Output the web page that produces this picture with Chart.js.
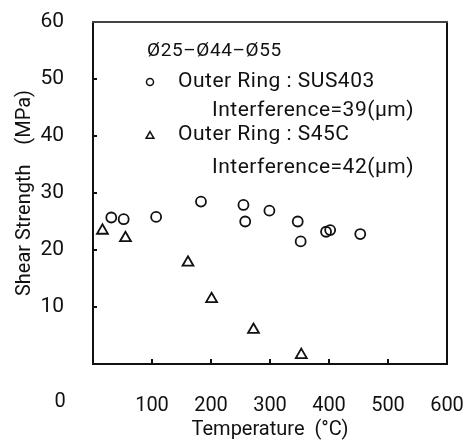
<!DOCTYPE html>
<html>
<head>
<meta charset="utf-8">
<script src="https://cdn.jsdelivr.net/npm/chart.js@4/dist/chart.umd.min.js"></script>
<style>
  body { margin: 0; background: #fff; }
  canvas { display: block; }
</style>
</head>
<body>
<canvas id="graf" width="467" height="444"></canvas>
<script>
// outer ring SUS403, interference 39 um
var susTeplota = [31, 52, 107, 183, 255, 258, 299, 347, 352, 395, 402, 453];
var susPevnost = [25.7, 25.4, 25.8, 28.5, 27.9, 25.0, 26.9, 25.0, 21.5, 23.2, 23.5, 22.8];

// outer ring S45C, interference 42 um
var s45cTeplota = [16, 55, 161, 201, 272, 353];
var s45cPevnost = [23.4, 22.1, 17.8, 11.4, 6.0, 1.6];

var xTicky = [0, 100, 200, 300, 400, 500, 600];
var yTicky = [0, 10, 20, 30, 40, 50, 60];

var popisky = [
    "\u00d825\u2013\u00d844\u2013\u00d855",
    "Outer Ring : SUS403",
    "Interference=39(\u03bcm)",
    "Outer Ring : S45C",
    "Interference=42(\u03bcm)"
];

const FONT = "Roboto, 'DejaVu Sans', sans-serif";

function body(x, y) {
    var pole = [];
    for (var i = 0; i < x.length; i++) {
        pole.push({x: x[i], y: y[i]});
    }
    return pole;
}

// bez extra paddingu od labelov, plocha grafu je dana len layout paddingom
function bezPaddingu(scale) {
    scale.paddingTop = 0;
    scale.paddingBottom = 0;
    scale.paddingLeft = 0;
    scale.paddingRight = 0;
}

// ramik, vnutorne ticky a text v grafe
var ramik = {
    id: "ramik",
    afterDraw: function (chart) {
        var ctx = chart.ctx;
        var a = chart.chartArea;
        var sx = chart.scales.x;
        var sy = chart.scales.y;
        var l = Math.round(a.left), r = Math.round(a.right);
        var t = Math.round(a.top), b = Math.round(a.bottom);
        ctx.save();

        ctx.fillStyle = "#111";
        ctx.fillRect(l - 1, t - 1, 2, b - t + 2);
        ctx.fillRect(r - 1, t - 1, 2, b - t + 2);
        ctx.fillRect(l - 1, b - 1, r - l + 2, 2);
        ctx.fillStyle = "#444";
        ctx.fillRect(l - 1, t - 1, r - l + 2, 2);

        ctx.fillStyle = "#111";
        for (var i = 1; i < xTicky.length - 1; i++) {
            var px = Math.round(sx.getPixelForValue(xTicky[i]));
            ctx.fillRect(px - 1, b - 5, 2, 5);
        }
        for (var j = 1; j < yTicky.length - 1; j++) {
            var py = Math.round(sy.getPixelForValue(yTicky[j]));
            ctx.fillRect(l, py - 1, 4, 2);
        }

        // nula pod osou
        ctx.font = "20px " + FONT;
        ctx.textAlign = "center";
        ctx.textBaseline = "middle";
        ctx.fillText("0", l - 33, b + 38);

        // legenda vnutri grafu
        ctx.textAlign = "left";
        ctx.font = "19px " + FONT;
        ctx.letterSpacing = "0.6px";
        ctx.fillText(popisky[0], l + 54, t + 29);
        ctx.font = "21px " + FONT;
        ctx.letterSpacing = "0.5px";
        ctx.fillText(popisky[1], l + 85, t + 60);
        ctx.fillText(popisky[2], l + 119, t + 89);
        ctx.fillText(popisky[3], l + 85, t + 113);
        ctx.fillText(popisky[4], l + 119, t + 146);
        ctx.letterSpacing = "0px";

        ctx.strokeStyle = "#111";
        ctx.fillStyle = "rgba(0,0,0,0)";
        ctx.lineWidth = 1.5;
        Chart.helpers.drawPoint(ctx, {pointStyle: "circle", radius: 3.5, rotation: 0, borderWidth: 1.5}, l + 57, t + 60);
        Chart.helpers.drawPoint(ctx, {pointStyle: "triangle", radius: 4.5, rotation: 0, borderWidth: 1.5}, l + 57, t + 114);
        ctx.restore();
    }
};

new Chart(document.getElementById("graf"), {
    type: "scatter",
    data: {
        datasets: [{
            label: "Outer Ring : SUS403",
            data: body(susTeplota, susPevnost),
            pointStyle: "circle",
            pointRadius: 5,
            borderColor: "#111",
            backgroundColor: "rgba(0,0,0,0)",
            borderWidth: 1.8
        }, {
            label: "Outer Ring : S45C",
            data: body(s45cTeplota, s45cPevnost),
            pointStyle: "triangle",
            pointRadius: 6.3,
            borderColor: "#111",
            backgroundColor: "rgba(0,0,0,0)",
            borderWidth: 1.8
        }]
    },
    options: {
        responsive: false,
        animation: false,
        layout: {padding: {left: 0, right: 20, top: 22, bottom: 0}},
        plugins: {
            legend: {display: false},
            tooltip: {enabled: false}
        },
        scales: {
            x: {
                type: "linear",
                min: xTicky[0],
                max: xTicky[xTicky.length - 1],
                afterFit: function (scale) {
                    scale.height = 80;
                    bezPaddingu(scale);
                },
                afterBuildTicks: function (scale) {
                    scale.ticks = xTicky.map(function (v) { return {value: v}; });
                },
                grid: {display: false},
                border: {display: false},
                ticks: {
                    padding: 22,
                    color: "#111",
                    font: {family: FONT, size: 20},
                    callback: function (v) { return v === 0 ? "" : v; }
                },
                title: {
                    display: true,
                    text: "Temperature  (\u00b0C)",
                    color: "#111",
                    font: {family: FONT, size: 20},
                    padding: {top: 0, bottom: 2}
                }
            },
            y: {
                min: yTicky[0],
                max: yTicky[yTicky.length - 1],
                afterFit: function (scale) {
                    scale.width = 93;
                    bezPaddingu(scale);
                },
                afterBuildTicks: function (scale) {
                    scale.ticks = yTicky.map(function (v) { return {value: v}; });
                },
                grid: {display: false},
                border: {display: false},
                ticks: {
                    padding: 21,
                    color: "#111",
                    font: {family: FONT, size: 21},
                    callback: function (v) { return v === 0 ? "" : v; }
                },
                title: {
                    display: true,
                    text: "Shear Strength    (MPa)",
                    color: "#111",
                    font: {family: FONT, size: 20},
                    padding: {top: 13, bottom: 0}
                }
            }
        }
    },
    plugins: [ramik]
});
</script>
</body>
</html>
